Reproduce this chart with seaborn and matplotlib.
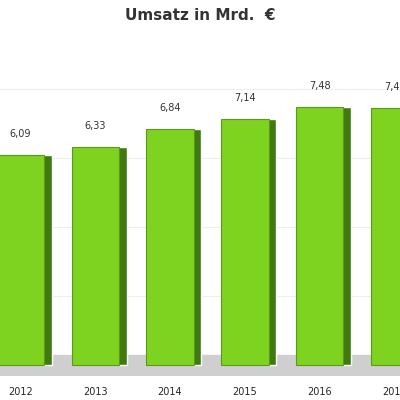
import matplotlib
matplotlib.use('Agg')
import matplotlib.pyplot as plt
import seaborn as sns
import pandas as pd

years = ['2012', '2013', '2014', '2015', '2016', '2017']
umsatz = [6.09, 6.33, 6.84, 7.14, 7.48, 7.45]
labels = ['6,09', '6,33', '6,84', '7,14', '7,48', '7,45']

df = pd.DataFrame({'Jahr': years, 'Umsatz': umsatz})

sns.set_style('white')
fig = plt.figure(figsize=(4, 4), dpi=100)
ax = fig.add_axes([0, 0.06, 1, 0.84])

# grey floor
ax.axhspan(-0.32, 0.3, color='#cfcfcf', zorder=0)
for y in [2, 4, 6, 8]:
    ax.axhline(y, color='#eeeeee', lw=0.8, zorder=0)

# darker side face
xs = range(len(years))
ax.bar([x + 0.36 for x in xs], umsatz, width=0.12, color='#3f7a10', zorder=1)
sns.barplot(data=df, x='Jahr', y='Umsatz', color='#7ed321', saturation=1,
            width=0.63, edgecolor='#5a9a1a', linewidth=0.8, ax=ax, zorder=2)

for x, v, t in zip(xs, umsatz, labels):
    ax.text(x, v + 0.45, t, ha='center', va='bottom', fontsize=7, color='#333333')

ax.set_xlim(-0.27, 5.07)
ax.set_ylim(-0.32, 9.42)
ax.set_xticks(list(xs))
ax.set_xticklabels(years, fontsize=7)
ax.tick_params(axis='x', length=0, pad=8)
ax.set_yticks([])
ax.set_xlabel('')
ax.set_ylabel('')
for s in ax.spines.values():
    s.set_visible(False)

fig.text(0.5, 0.962, 'Umsatz in Mrd.  €', ha='center', va='center',
         fontsize=11, fontweight='bold', color='#333333')

fig.savefig('out.png', dpi=100)
